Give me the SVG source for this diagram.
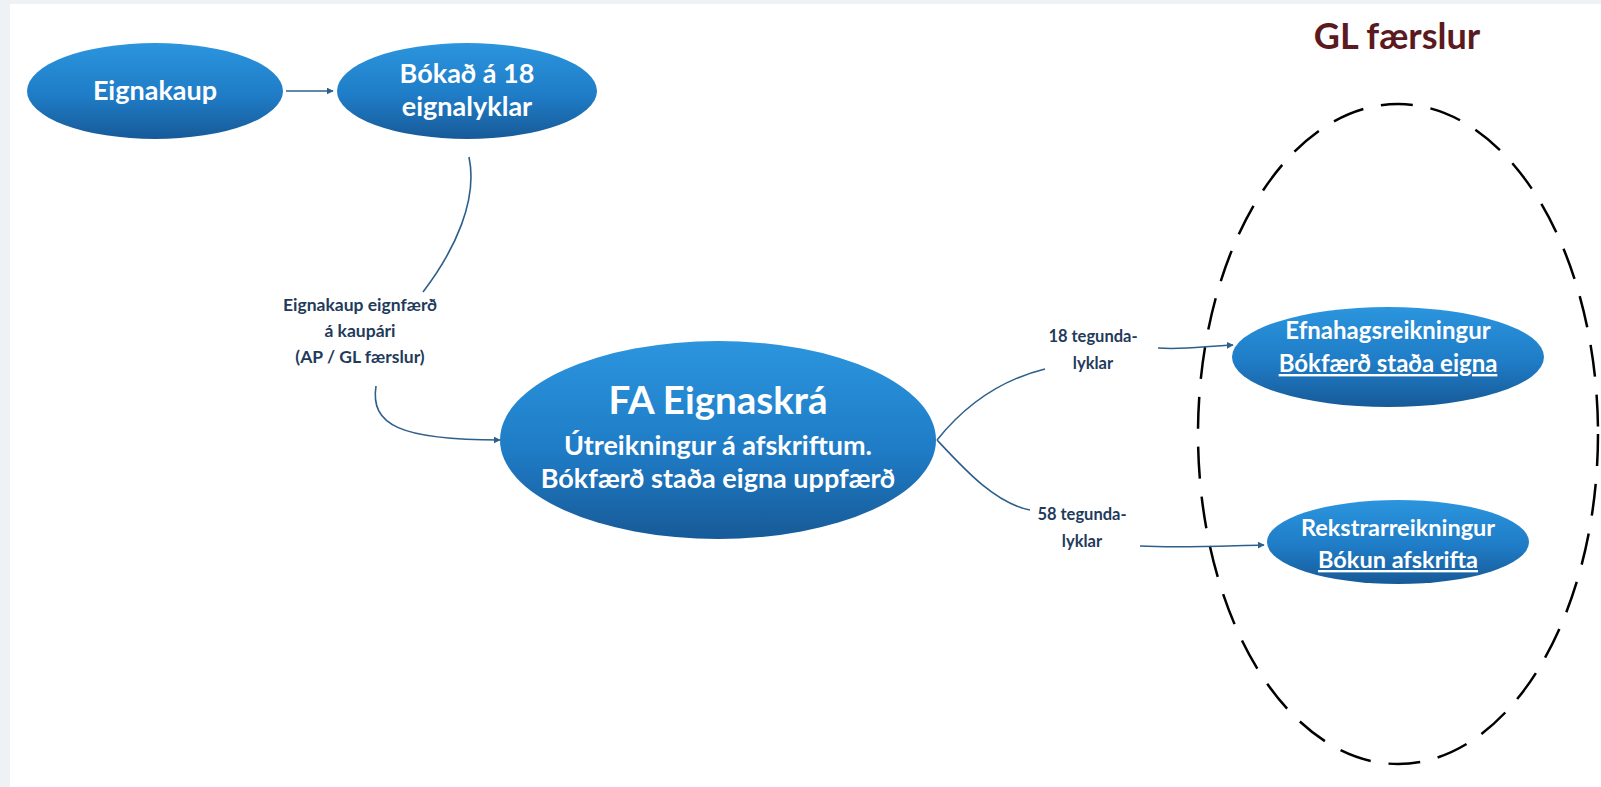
<svg xmlns="http://www.w3.org/2000/svg" width="1601" height="787" viewBox="0 0 1601 787">
<defs>
<linearGradient id="blue" x1="0" y1="0" x2="0" y2="1">
<stop offset="0" stop-color="#2b95de"/>
<stop offset="0.55" stop-color="#1f7cc6"/>
<stop offset="1" stop-color="#175a98"/>
</linearGradient>
<marker id="arr" viewBox="0 0 10 10" refX="9" refY="5" markerWidth="7" markerHeight="7" orient="auto" markerUnits="userSpaceOnUse">
<path d="M0,0 L10,5 L0,10 z" fill="#2e5f8a"/>
</marker>
<style>
.node{fill:url(#blue);}
.nt{font-family:Lato,"Open Sans","Liberation Sans",sans-serif;font-weight:bold;fill:#ffffff;text-anchor:middle;}
.lb{font-family:Lato,"Open Sans","Liberation Sans",sans-serif;font-weight:bold;fill:#1f3b5c;text-anchor:middle;}
.con{fill:none;stroke:#2e5f8a;stroke-width:1.6;}
</style>
</defs>
<rect x="0" y="0" width="1601" height="787" fill="#eef2f5"/>
<rect x="10" y="4" width="1591" height="783" fill="#ffffff"/>

<g id="gl-group">
<ellipse cx="1398" cy="434" rx="200" ry="330" fill="none" stroke="#000000" stroke-width="2.5" stroke-dasharray="32,18"/>
<text x="1397" y="49" font-family="Lato,'Open Sans','Liberation Sans',sans-serif" font-weight="bold" font-size="36" fill="#5a1a1e" text-anchor="middle">GL færslur</text>
</g>

<g id="connectors">
<path class="con" d="M286,91 L333,91" marker-end="url(#arr)"/>
<path class="con" d="M469,157 C478,200 455,250 423,292"/>
<path class="con" d="M376,386 C370,425 400,440 500,440" marker-end="url(#arr)"/>
<path class="con" d="M937,440 C965,405 1000,380 1045,369"/>
<path class="con" d="M937,440 C965,470 995,503 1030,510"/>
<path class="con" d="M1158,348 C1185,350 1205,346 1233,345" marker-end="url(#arr)"/>
<path class="con" d="M1140,546 C1180,548 1220,546 1264,545" marker-end="url(#arr)"/>
<text class="lb" font-size="17.5"><tspan x="360" y="311">Eignakaup eignfærð</tspan><tspan x="360" y="337">á kaupári</tspan><tspan x="360" y="363">(AP / GL færslur)</tspan></text>
<text class="lb" font-size="16.5"><tspan x="1093" y="342">18 tegunda-</tspan><tspan x="1093" y="369">lyklar</tspan></text>
<text class="lb" font-size="16.5"><tspan x="1082" y="520">58 tegunda-</tspan><tspan x="1082" y="547">lyklar</tspan></text>
</g>

<g id="eignakaup">
<ellipse class="node" cx="155" cy="91" rx="128" ry="48"/>
<text class="nt" x="155" y="100" font-size="27">Eignakaup</text>
</g>

<g id="bokad">
<ellipse class="node" cx="467" cy="91" rx="130" ry="48"/>
<text class="nt" font-size="27"><tspan x="467" y="83">Bókað á 18</tspan><tspan x="467" y="116">eignalyklar</tspan></text>
</g>

<g id="fa">
<ellipse class="node" cx="718" cy="440" rx="218" ry="99"/>
<text class="nt" x="718" y="414" font-size="38.5">FA Eignaskrá</text>
<text class="nt" font-size="27"><tspan x="718" y="455">Útreikningur á afskriftum.</tspan><tspan x="718" y="488">Bókfærð staða eigna uppfærð</tspan></text>
</g>

<g id="efnahags">
<ellipse class="node" cx="1388" cy="357" rx="156" ry="50"/>
<text class="nt" font-size="24"><tspan x="1388" y="339">Efnahagsreikningur</tspan><tspan x="1388" y="372" text-decoration="underline">Bókfærð staða eigna</tspan></text>
</g>

<g id="rekstrar">
<ellipse class="node" cx="1398" cy="542" rx="131" ry="42"/>
<text class="nt" font-size="23.5"><tspan x="1398" y="536">Rekstrarreikningur</tspan><tspan x="1398" y="568" text-decoration="underline">Bókun afskrifta</tspan></text>
</g>
</svg>
